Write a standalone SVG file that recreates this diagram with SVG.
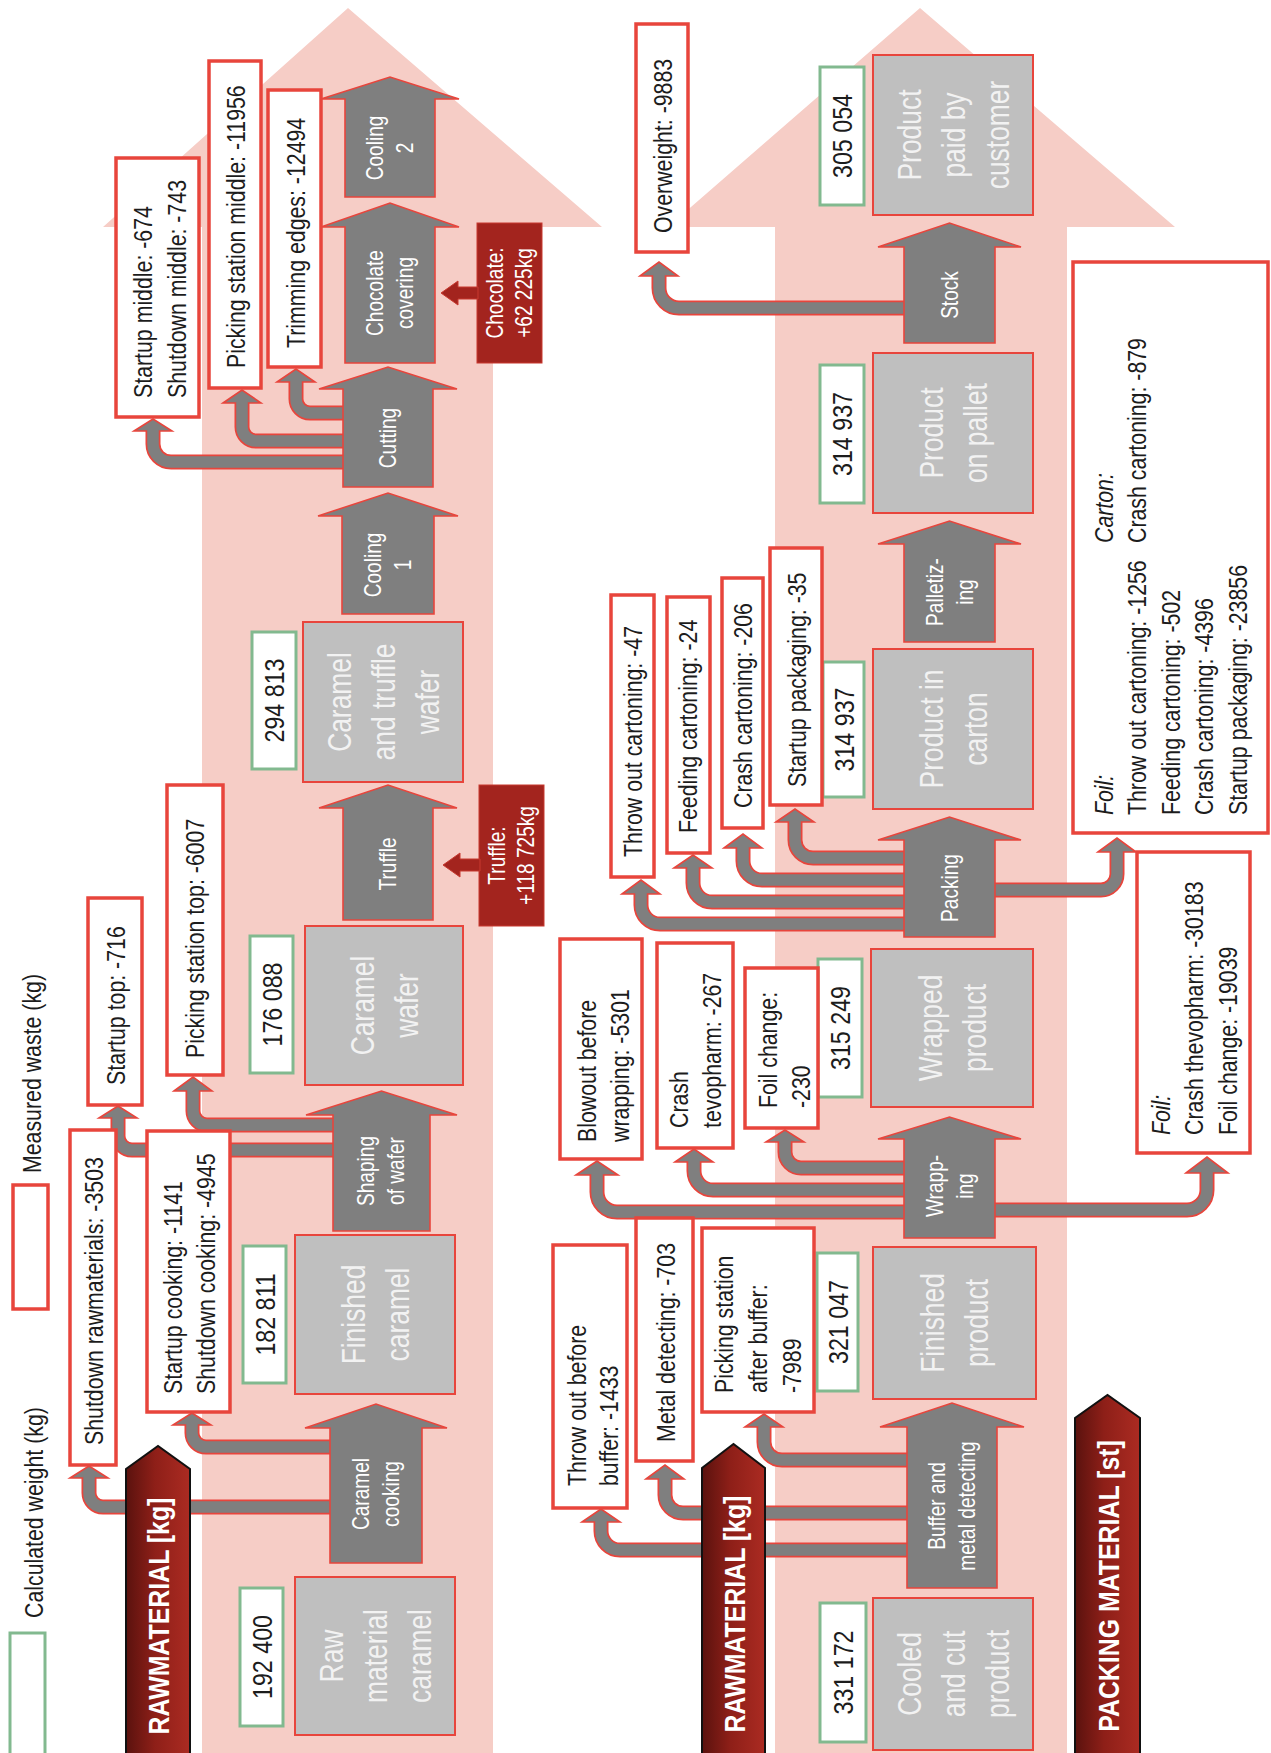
<svg xmlns="http://www.w3.org/2000/svg" width="1271" height="1753" viewBox="0 0 1271 1753">
<defs>
<linearGradient id="matGrad" x1="0" y1="0" x2="1" y2="0">
<stop offset="0" stop-color="#5a120e"/>
<stop offset="0.45" stop-color="#8e1f18"/>
<stop offset="1" stop-color="#ab2b22"/>
</linearGradient>
<style>
.bg{fill:#f6cdc6}
.proc{fill:#7f7f7f;stroke:#e8453c;stroke-width:1.6}
.stage{fill:#bfbfbf;stroke:#e8453c;stroke-width:2}
.calc{fill:#fff;stroke:#82b98f;stroke-width:3}
.waste{fill:#fff;stroke:#e8453c;stroke-width:3.5}
.add{fill:#a3241e;stroke:#c8392f;stroke-width:1}
.mat{fill:url(#matGrad);stroke:#111;stroke-width:2}
.bo{fill:none;stroke:#e8453c;stroke-width:15}
.bi{fill:none;stroke:#7f7f7f;stroke-width:11.5}
.hd{fill:#7f7f7f;stroke:#e8453c;stroke-width:1.6}
text{font-family:"Liberation Sans",Arial,sans-serif}
.t{font-size:26px;fill:#1c1c1c}
.n{font-size:28px;fill:#1c1c1c;text-anchor:middle}
.p{font-size:23px;fill:#fff;text-anchor:middle}
.s{font-size:33px;fill:#f2f2f2;text-anchor:middle}
.m{font-size:30px;fill:#fff;font-weight:bold;text-anchor:middle}
.i{font-style:italic}
</style>
</defs>

<!-- background flow arrows -->
<g id="background">
<polygon class="bg" points="202,1753 202,227 103,227 348,8 602,227 493,227 493,1753"/>
<polygon class="bg" points="775,1753 775,227 668,227 920,8 1175,227 1067,227 1067,1753"/>
</g>

<!-- waste connectors -->
<g id="connectors">
<g><path class="bo" d="M335 1507H103A14 14 0 0 1 89 1493V1476"/><polygon class="hd" points="70,1478 89,1466 108,1478"/><path class="bi" d="M335 1507H103A14 14 0 0 1 89 1493V1476"/></g>
<g><path class="bo" d="M335 1447H206A14 14 0 0 1 192 1433V1423"/><polygon class="hd" points="173,1425 192,1413 211,1425"/><path class="bi" d="M335 1447H206A14 14 0 0 1 192 1433V1423"/></g>
<g><path class="bo" d="M338 1150H132A14 14 0 0 1 118 1136V1116"/><polygon class="hd" points="99,1118 118,1106 137,1118"/><path class="bi" d="M338 1150H132A14 14 0 0 1 118 1136V1116"/></g>
<g><path class="bo" d="M338 1125H207A14 14 0 0 1 193 1111V1089"/><polygon class="hd" points="174,1091 193,1077 212,1091"/><path class="bi" d="M338 1125H207A14 14 0 0 1 193 1111V1089"/></g>
<g><path class="bo" d="M348 462H171A18 18 0 0 1 153 444V429"/><polygon class="hd" points="134,431 153,419 172,431"/><path class="bi" d="M348 462H171A18 18 0 0 1 153 444V429"/></g>
<g><path class="bo" d="M348 441H256A14 14 0 0 1 242 427V401"/><polygon class="hd" points="223,403 242,390 261,403"/><path class="bi" d="M348 441H256A14 14 0 0 1 242 427V401"/></g>
<g><path class="bo" d="M348 413H310A14 14 0 0 1 296 399V380"/><polygon class="hd" points="277,382 296,369 315,382"/><path class="bi" d="M348 413H310A14 14 0 0 1 296 399V380"/></g>
<g><path class="bo" d="M909 308H679A20 20 0 0 1 659 288V274"/><polygon class="hd" points="640,276 659,262 678,276"/><path class="bi" d="M909 308H679A20 20 0 0 1 659 288V274"/></g>
<g><path class="bo" d="M909 924H660A19 19 0 0 1 641 905V892"/><polygon class="hd" points="622,894 641,880 660,894"/><path class="bi" d="M909 924H660A19 19 0 0 1 641 905V892"/></g>
<g><path class="bo" d="M909 902H712A19 19 0 0 1 693 883V866"/><polygon class="hd" points="674,868 693,855 712,868"/><path class="bi" d="M909 902H712A19 19 0 0 1 693 883V866"/></g>
<g><path class="bo" d="M909 880H762A19 19 0 0 1 743 861V846"/><polygon class="hd" points="724,848 743,834 762,848"/><path class="bi" d="M909 880H762A19 19 0 0 1 743 861V846"/></g>
<g><path class="bo" d="M909 858H813A18 18 0 0 1 795 840V820"/><polygon class="hd" points="776,822 795,809 814,822"/><path class="bi" d="M909 858H813A18 18 0 0 1 795 840V820"/></g>
<g><path class="bo" d="M990 890H1101A16 16 0 0 0 1117 874V850"/><polygon class="hd" points="1098,852 1117,838 1136,852"/><path class="bi" d="M990 890H1101A16 16 0 0 0 1117 874V850"/></g>
<g><path class="bo" d="M909 1212H617A20 20 0 0 1 597 1192V1173"/><polygon class="hd" points="576,1175 597,1161 618,1175"/><path class="bi" d="M909 1212H617A20 20 0 0 1 597 1192V1173"/></g>
<g><path class="bo" d="M909 1190H713A19 19 0 0 1 694 1171V1160"/><polygon class="hd" points="675,1162 694,1149 713,1162"/><path class="bi" d="M909 1190H713A19 19 0 0 1 694 1171V1160"/></g>
<g><path class="bo" d="M909 1168H801A16 16 0 0 1 785 1152V1140"/><polygon class="hd" points="766,1142 785,1130 804,1142"/><path class="bi" d="M909 1168H801A16 16 0 0 1 785 1152V1140"/></g>
<g><path class="bo" d="M990 1210H1187A20 20 0 0 0 1207 1190V1171"/><polygon class="hd" points="1186,1173 1207,1157 1228,1173"/><path class="bi" d="M990 1210H1187A20 20 0 0 0 1207 1190V1171"/></g>
<g><path class="bo" d="M912 1550H620A19 19 0 0 1 601 1531V1520"/><polygon class="hd" points="582,1522 601,1509 620,1522"/><path class="bi" d="M912 1550H620A19 19 0 0 1 601 1531V1520"/></g>
<g><path class="bo" d="M912 1513H683A18 18 0 0 1 665 1495V1477"/><polygon class="hd" points="646,1479 665,1465 684,1479"/><path class="bi" d="M912 1513H683A18 18 0 0 1 665 1495V1477"/></g>
<g><path class="bo" d="M912 1460H782A18 18 0 0 1 764 1442V1425"/><polygon class="hd" points="745,1427 764,1414 783,1427"/><path class="bi" d="M912 1460H782A18 18 0 0 1 764 1442V1425"/></g>
</g>

<!-- process steps (left line) -->
<g id="cooling2"><polygon class="proc" points="345,197 345,99 321,99 390,77 459,99 435,99 435,197"/>
<text class="p" transform="translate(390 148) rotate(-90) scale(0.83 1)"><tspan x="0" y="-7">Cooling</tspan><tspan x="0" y="23">2</tspan></text></g>
<g id="chocolate-covering"><polygon class="proc" points="345,363 345,227 321,227 390,203 459,227 435,227 435,363"/>
<text class="p" transform="translate(390 293) rotate(-90) scale(0.83 1)"><tspan x="0" y="-7">Chocolate</tspan><tspan x="0" y="23">covering</tspan></text></g>
<g id="cutting"><polygon class="proc" points="343,487 343,389 319,389 388,367 457,389 433,389 433,487"/>
<text class="p" transform="translate(388 438) rotate(-90) scale(0.83 1)"><tspan x="0" y="8">Cutting</tspan></text></g>
<g id="cooling1"><polygon class="proc" points="342,614 342,516 318,516 388,493 458,516 434,516 434,614"/>
<text class="p" transform="translate(388 565) rotate(-90) scale(0.83 1)"><tspan x="0" y="-7">Cooling</tspan><tspan x="0" y="23">1</tspan></text></g>
<g id="truffle"><polygon class="proc" points="343,920 343,808 319,808 388,785 457,808 433,808 433,920"/>
<text class="p" transform="translate(388 864) rotate(-90) scale(0.83 1)"><tspan x="0" y="8">Truffle</tspan></text></g>
<g id="shaping"><polygon class="proc" points="333,1231 333,1115 306,1115 381.5,1091 457,1115 430,1115 430,1231"/>
<text class="p" transform="translate(381 1171) rotate(-90) scale(0.83 1)"><tspan x="0" y="-7">Shaping</tspan><tspan x="0" y="23">of wafer</tspan></text></g>
<g id="caramel-cooking"><polygon class="proc" points="330,1563 330,1428 305,1428 376,1404 447,1428 422,1428 422,1563"/>
<text class="p" transform="translate(376 1494) rotate(-90) scale(0.83 1)"><tspan x="0" y="-7">Caramel</tspan><tspan x="0" y="23">cooking</tspan></text></g>

<!-- process steps (right line) -->
<g id="stock"><polygon class="proc" points="904,343 904,247 878,247 949.5,223 1021,247 995,247 995,343"/>
<text class="p" transform="translate(950 295) rotate(-90) scale(0.83 1)"><tspan x="0" y="8">Stock</tspan></text></g>
<g id="palletizing"><polygon class="proc" points="904,642 904,544 878,544 949.5,521 1021,544 995,544 995,642"/>
<text class="p" transform="translate(950 592) rotate(-90) scale(0.83 1)"><tspan x="0" y="-7">Palletiz-</tspan><tspan x="0" y="23">ing</tspan></text></g>
<g id="packing"><polygon class="proc" points="904,937 904,840 878,840 949.5,817 1021,840 995,840 995,937"/>
<text class="p" transform="translate(950 888) rotate(-90) scale(0.83 1)"><tspan x="0" y="8">Packing</tspan></text></g>
<g id="wrapping"><polygon class="proc" points="904,1238 904,1139 878,1139 949.5,1117 1021,1139 995,1139 995,1238"/>
<text class="p" transform="translate(950 1186) rotate(-90) scale(0.83 1)"><tspan x="0" y="-7">Wrapp-</tspan><tspan x="0" y="23">ing</tspan></text></g>
<g id="buffer"><polygon class="proc" points="907,1588 907,1427 880,1427 952,1403 1024,1427 997,1427 997,1588"/>
<text class="p" transform="translate(952 1506) rotate(-90) scale(0.83 1)"><tspan x="0" y="-7">Buffer and</tspan><tspan x="0" y="23">metal detecting</tspan></text></g>

<!-- product stages -->
<g id="caramel-truffle-wafer"><rect class="stage" x="303" y="622" width="160" height="160"/>
<text class="s" transform="translate(383 702) rotate(-90) scale(0.8 1)"><tspan x="0" y="-32">Caramel</tspan><tspan x="0" y="12">and truffle</tspan><tspan x="0" y="56">wafer</tspan></text></g>
<g id="caramel-wafer"><rect class="stage" x="305" y="926" width="158" height="159"/>
<text class="s" transform="translate(384 1005.5) rotate(-90) scale(0.8 1)"><tspan x="0" y="-10">Caramel</tspan><tspan x="0" y="34">wafer</tspan></text></g>
<g id="finished-caramel"><rect class="stage" x="295" y="1235" width="160" height="159"/>
<text class="s" transform="translate(375 1314.5) rotate(-90) scale(0.8 1)"><tspan x="0" y="-10">Finished</tspan><tspan x="0" y="34">caramel</tspan></text></g>
<g id="raw-material-caramel"><rect class="stage" x="295" y="1577" width="160" height="158"/>
<text class="s" transform="translate(375 1656) rotate(-90) scale(0.8 1)"><tspan x="0" y="-32">Raw</tspan><tspan x="0" y="12">material</tspan><tspan x="0" y="56">caramel</tspan></text></g>
<g id="product-paid"><rect class="stage" x="873" y="55" width="160" height="160"/>
<text class="s" transform="translate(953 135) rotate(-90) scale(0.8 1)"><tspan x="0" y="-32">Product</tspan><tspan x="0" y="12">paid by</tspan><tspan x="0" y="56">customer</tspan></text></g>
<g id="product-pallet"><rect class="stage" x="873" y="353" width="160" height="160"/>
<text class="s" transform="translate(953 433) rotate(-90) scale(0.8 1)"><tspan x="0" y="-10">Product</tspan><tspan x="0" y="34">on pallet</tspan></text></g>
<g id="product-carton"><rect class="stage" x="873" y="649" width="160" height="160"/>
<text class="s" transform="translate(953 729) rotate(-90) scale(0.8 1)"><tspan x="0" y="-10">Product in</tspan><tspan x="0" y="34">carton</tspan></text></g>
<g id="wrapped-product"><rect class="stage" x="871" y="949" width="162" height="158"/>
<text class="s" transform="translate(952 1028) rotate(-90) scale(0.8 1)"><tspan x="0" y="-10">Wrapped</tspan><tspan x="0" y="34">product</tspan></text></g>
<g id="finished-product"><rect class="stage" x="873" y="1247" width="163" height="152"/>
<text class="s" transform="translate(954 1323) rotate(-90) scale(0.8 1)"><tspan x="0" y="-10">Finished</tspan><tspan x="0" y="34">product</tspan></text></g>
<g id="cooled-product"><rect class="stage" x="873" y="1598" width="160" height="152"/>
<text class="s" transform="translate(953 1674) rotate(-90) scale(0.8 1)"><tspan x="0" y="-32">Cooled</tspan><tspan x="0" y="12">and cut</tspan><tspan x="0" y="56">product</tspan></text></g>

<!-- calculated weights -->
<g id="w192400"><rect class="calc" x="240" y="1588" width="43" height="138"/><text class="n" transform="translate(261.5 1657) rotate(-90) scale(0.83 1)" y="10">192 400</text></g>
<g id="w182811"><rect class="calc" x="243" y="1246" width="43" height="137"/><text class="n" transform="translate(264.5 1314.5) rotate(-90) scale(0.83 1)" y="10">182 811</text></g>
<g id="w176088"><rect class="calc" x="250" y="936" width="43" height="137"/><text class="n" transform="translate(271.5 1004.5) rotate(-90) scale(0.83 1)" y="10">176 088</text></g>
<g id="w294813"><rect class="calc" x="252" y="632" width="44" height="137"/><text class="n" transform="translate(274 700.5) rotate(-90) scale(0.83 1)" y="10">294 813</text></g>
<g id="w305054"><rect class="calc" x="820" y="67" width="44" height="138"/><text class="n" transform="translate(842 136) rotate(-90) scale(0.83 1)" y="10">305 054</text></g>
<g id="w314937a"><rect class="calc" x="820" y="365" width="44" height="138"/><text class="n" transform="translate(842 434) rotate(-90) scale(0.83 1)" y="10">314 937</text></g>
<g id="w314937b"><rect class="calc" x="823" y="662" width="41" height="135"/><text class="n" transform="translate(843.5 729.5) rotate(-90) scale(0.83 1)" y="10">314 937</text></g>
<g id="w315249"><rect class="calc" x="818" y="959" width="44" height="138"/><text class="n" transform="translate(840 1028) rotate(-90) scale(0.83 1)" y="10">315 249</text></g>
<g id="w321047"><rect class="calc" x="817" y="1253" width="41" height="138"/><text class="n" transform="translate(837.5 1322) rotate(-90) scale(0.83 1)" y="10">321 047</text></g>
<g id="w331172"><rect class="calc" x="820" y="1603" width="46" height="139"/><text class="n" transform="translate(843 1672.5) rotate(-90) scale(0.83 1)" y="10">331 172</text></g>

<!-- measured waste -->
<g id="startup-middle"><rect class="waste" x="116" y="158" width="83" height="259"/>
<text class="t" transform="translate(152 398) rotate(-90) scale(0.82 1)"><tspan x="0" y="0">Startup middle: -674</tspan><tspan x="0" y="34">Shutdown middle: -743</tspan></text></g>
<g id="picking-middle"><rect class="waste" x="209" y="61" width="52" height="327"/>
<text class="t" transform="translate(245 368) rotate(-90) scale(0.82 1)">Picking station middle: -11956</text></g>
<g id="trimming"><rect class="waste" x="268" y="90" width="53" height="277"/>
<text class="t" transform="translate(305 348) rotate(-90) scale(0.82 1)">Trimming edges: -12494</text></g>
<g id="picking-top"><rect class="waste" x="167" y="785" width="56" height="290"/>
<text class="t" transform="translate(204 1058) rotate(-90) scale(0.82 1)">Picking station top: -6007</text></g>
<g id="startup-top"><rect class="waste" x="88" y="898" width="54" height="207"/>
<text class="t" transform="translate(125 1085) rotate(-90) scale(0.82 1)">Startup top: -716</text></g>
<g id="shutdown-raw"><rect class="waste" x="70" y="1130" width="46" height="335"/>
<text class="t" transform="translate(103 1445) rotate(-90) scale(0.82 1)">Shutdown rawmaterials: -3503</text></g>
<g id="startup-cooking"><rect class="waste" x="147" y="1131" width="83" height="281"/>
<text class="t" transform="translate(182 1394) rotate(-90) scale(0.82 1)"><tspan x="0" y="0">Startup cooking: -1141</tspan><tspan x="0" y="33">Shutdown cooking: -4945</tspan></text></g>
<g id="overweight"><rect class="waste" x="636" y="24" width="52" height="228"/>
<text class="t" transform="translate(672 233) rotate(-90) scale(0.82 1)">Overweight: -9883</text></g>
<g id="throw-out-cartoning"><rect class="waste" x="611" y="595" width="43" height="282"/>
<text class="t" transform="translate(642 857) rotate(-90) scale(0.82 1)">Throw out cartoning: -47</text></g>
<g id="feeding-cartoning"><rect class="waste" x="667" y="597" width="43" height="256"/>
<text class="t" transform="translate(697 833) rotate(-90) scale(0.82 1)">Feeding cartoning: -24</text></g>
<g id="crash-cartoning"><rect class="waste" x="722" y="578" width="41" height="250"/>
<text class="t" transform="translate(752 808) rotate(-90) scale(0.82 1)">Crash cartoning: -206</text></g>
<g id="startup-packaging"><rect class="waste" x="770" y="548" width="52" height="257"/>
<text class="t" transform="translate(806 787) rotate(-90) scale(0.82 1)">Startup packaging: -35</text></g>
<g id="blowout"><rect class="waste" x="560" y="939" width="82" height="220"/>
<text class="t" transform="translate(596 1142) rotate(-90) scale(0.82 1)"><tspan x="0" y="0">Blowout before</tspan><tspan x="0" y="33">wrapping: -5301</tspan></text></g>
<g id="crash-tevopharm"><rect class="waste" x="657" y="943" width="76" height="205"/>
<text class="t" transform="translate(688 1128) rotate(-90) scale(0.82 1)"><tspan x="0" y="0">Crash</tspan><tspan x="0" y="33">tevopharm: -267</tspan></text></g>
<g id="foil-change"><rect class="waste" x="745" y="968" width="73" height="160"/>
<text class="t" transform="translate(777 1108) rotate(-90) scale(0.82 1)"><tspan x="0" y="0">Foil change:</tspan><tspan x="0" y="33">-230</tspan></text></g>
<g id="throw-out-buffer"><rect class="waste" x="553" y="1245" width="74" height="263"/>
<text class="t" transform="translate(586 1486) rotate(-90) scale(0.82 1)"><tspan x="0" y="0">Throw out before</tspan><tspan x="0" y="32">buffer: -1433</tspan></text></g>
<g id="metal-detecting"><rect class="waste" x="636" y="1218" width="57" height="243"/>
<text class="t" transform="translate(675 1442) rotate(-90) scale(0.82 1)">Metal detecting: -703</text></g>
<g id="picking-buffer"><rect class="waste" x="702" y="1228" width="112" height="184"/>
<text class="t" transform="translate(733 1393) rotate(-90) scale(0.82 1)"><tspan x="0" y="0">Picking station</tspan><tspan x="0" y="34">after buffer:</tspan><tspan x="0" y="68">-7989</tspan></text></g>
<g id="packing-material-waste"><rect class="waste" x="1073" y="262" width="195" height="571"/>
<text class="t" transform="translate(1113 815) rotate(-90) scale(0.82 1)"><tspan class="i" x="0" y="0">Foil:</tspan><tspan x="0" y="33">Throw out cartoning: -1256</tspan><tspan x="0" y="67">Feeding cartoning: -502</tspan><tspan x="0" y="100">Crash cartoning: -4396</tspan><tspan x="0" y="134">Startup packaging: -23856</tspan></text>
<text class="t" transform="translate(1113 543) rotate(-90) scale(0.82 1)"><tspan class="i" x="0" y="0">Carton:</tspan><tspan x="0" y="33">Crash cartoning: -879</tspan></text></g>
<g id="wrapping-material-waste"><rect class="waste" x="1137" y="852" width="113" height="301"/>
<text class="t" transform="translate(1170 1135) rotate(-90) scale(0.82 1)"><tspan class="i" x="0" y="0">Foil:</tspan><tspan x="0" y="33">Crash thevopharm: -30183</tspan><tspan x="0" y="67">Foil change: -19039</tspan></text></g>

<!-- added ingredients -->
<g id="chocolate-input"><rect class="add" x="477" y="223" width="65" height="140"/>
<polygon class="add" points="478,287 458,287 458,281 441,293 458,305 458,299 478,299"/>
<text class="p" transform="translate(509.5 293) rotate(-90) scale(0.83 1)"><tspan x="0" y="-7">Chocolate:</tspan><tspan x="0" y="23">+62 225kg</tspan></text></g>
<g id="truffle-input"><rect class="add" x="479" y="785" width="65" height="141"/>
<polygon class="add" points="480,859 460,859 460,853 443,865 460,877 460,871 480,871"/>
<text class="p" transform="translate(511.5 855.5) rotate(-90) scale(0.83 1)"><tspan x="0" y="-7">Truffle:</tspan><tspan x="0" y="23">+118 725kg</tspan></text></g>

<!-- material lanes -->
<g id="raw-left"><polygon class="mat" points="126,1760 126,1469 158,1446 190,1469 190,1760"/>
<text class="m" transform="translate(158 1616) rotate(-90) scale(0.83 1)" y="11">RAWMATERIAL [kg]</text></g>
<g id="raw-right"><polygon class="mat" points="702,1760 702,1468 733.5,1444 765,1468 765,1760"/>
<text class="m" transform="translate(733.5 1614) rotate(-90) scale(0.83 1)" y="11">RAWMATERIAL [kg]</text></g>
<g id="packing-material"><polygon class="mat" points="1075,1760 1075,1418 1107.5,1395 1140,1418 1140,1760"/>
<text class="m" transform="translate(1107.5 1586) rotate(-90) scale(0.83 1)" y="11">PACKING MATERIAL [st]</text></g>

<!-- legend -->
<g id="legend">
<rect class="waste" x="13" y="1185" width="35" height="124"/>
<text class="t" transform="translate(41 1173) rotate(-90) scale(0.82 1)">Measured waste (kg)</text>
<rect class="calc" x="10" y="1633" width="35" height="130"/>
<text class="t" transform="translate(43 1618) rotate(-90) scale(0.82 1)">Calculated weight (kg)</text>
</g>
</svg>
